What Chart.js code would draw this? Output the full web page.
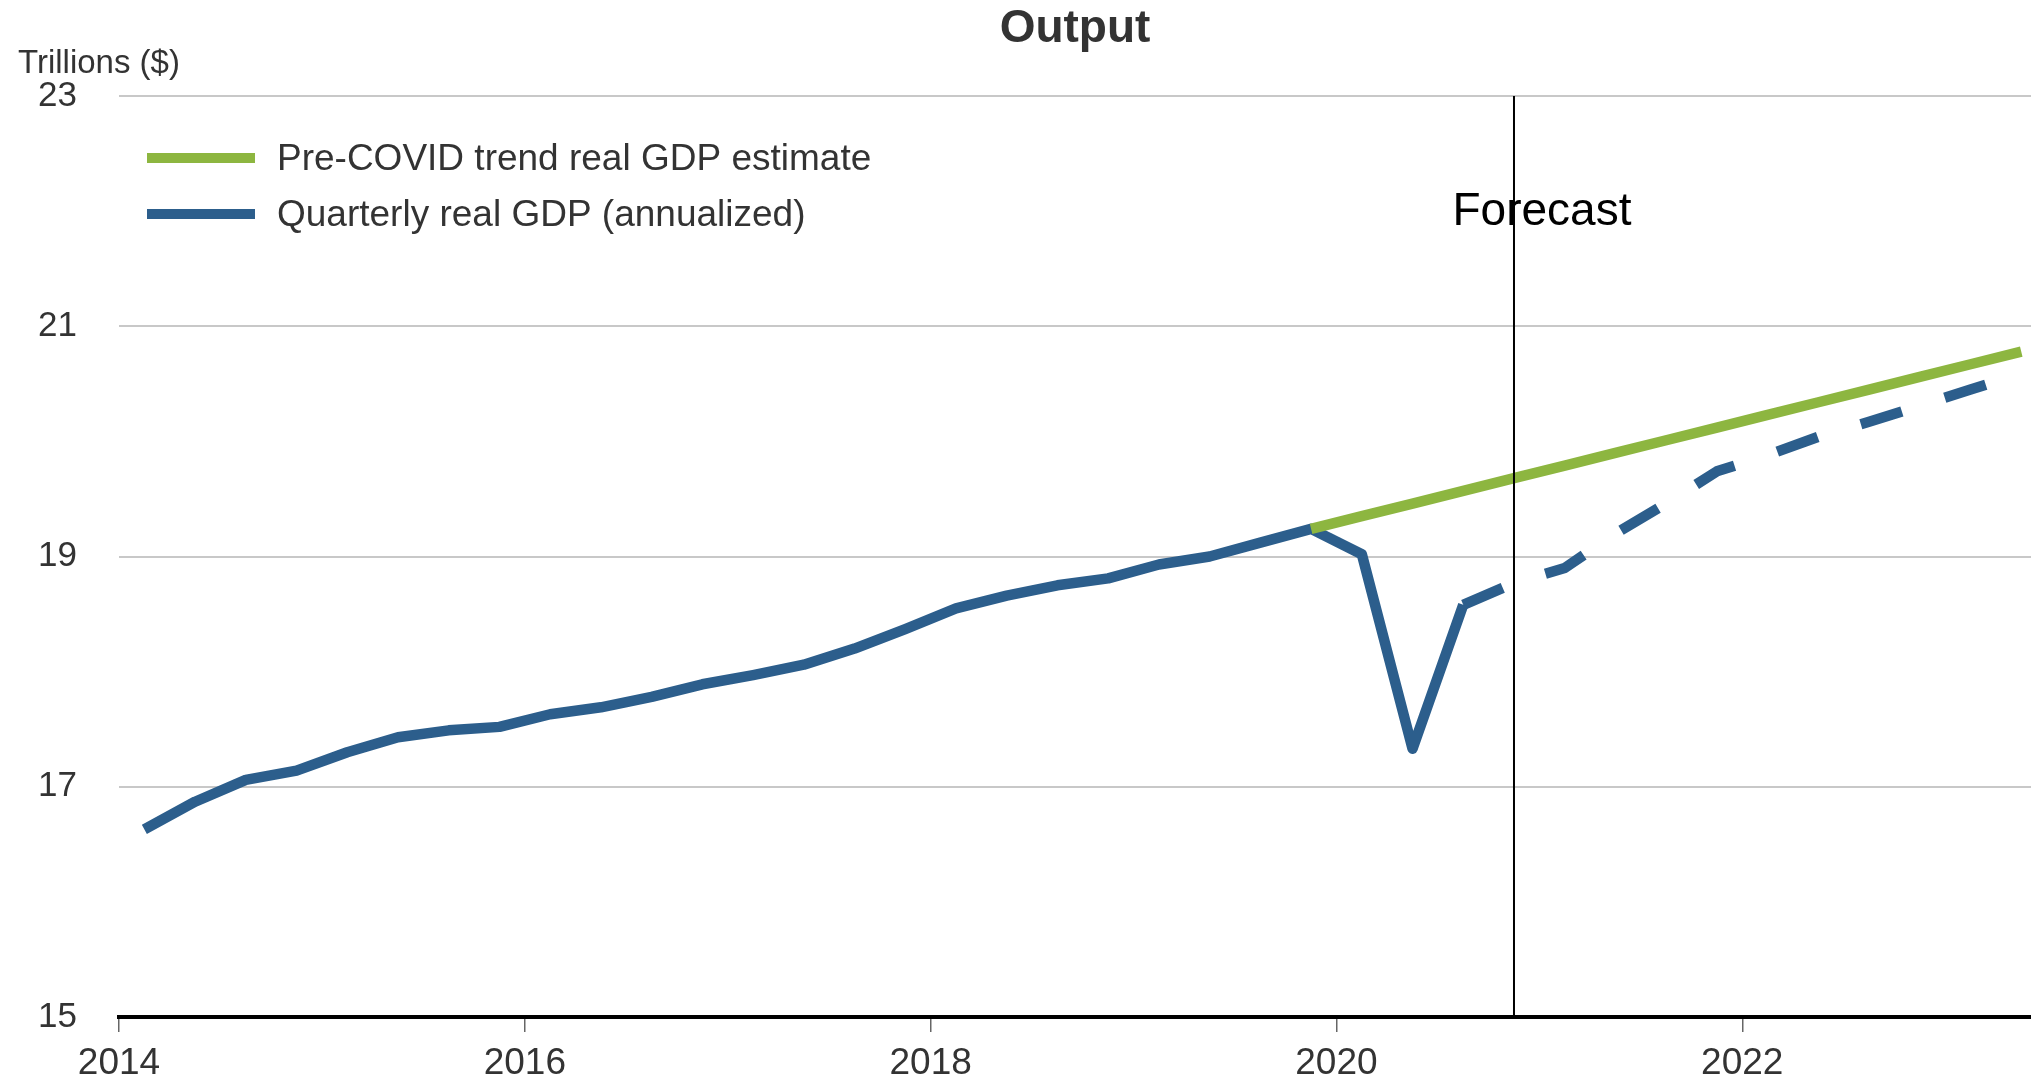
<!DOCTYPE html>
<html lang="en">
<head>
<meta charset="UTF-8">
<title>Output</title>
<style>
    body, html {
        margin: 0;
        padding: 0;
        background: #fff;
    }
    #chart {
        width: 2031px;
        height: 1081px;
        position: relative;
    }
</style>
</head>
<body>
<div id="chart"><canvas id="myChart"></canvas></div>

<script src="https://cdn.jsdelivr.net/npm/chart.js"></script>
<script>
    // quarterly periods shown on the chart
    var quarters = [
        '2014 Q1', '2014 Q2', '2014 Q3', '2014 Q4',
        '2015 Q1', '2015 Q2', '2015 Q3', '2015 Q4',
        '2016 Q1', '2016 Q2', '2016 Q3', '2016 Q4',
        '2017 Q1', '2017 Q2', '2017 Q3', '2017 Q4',
        '2018 Q1', '2018 Q2', '2018 Q3', '2018 Q4',
        '2019 Q1', '2019 Q2', '2019 Q3', '2019 Q4',
        '2020 Q1', '2020 Q2', '2020 Q3', '2020 Q4',
        '2021 Q1', '2021 Q2', '2021 Q3', '2021 Q4',
        '2022 Q1', '2022 Q2', '2022 Q3', '2022 Q4',
        '2023 Q1', '2023 Q2'
    ];

    // real GDP, trillions of dollars (annualized), 2014 Q1 - 2020 Q3
    var actualGdp = [
        16.63, 16.87, 17.06, 17.14,
        17.30, 17.43, 17.49, 17.52,
        17.63, 17.69, 17.78, 17.89,
        17.97, 18.06, 18.20, 18.37,
        18.55, 18.66, 18.75, 18.81,
        18.93, 19.00, 19.12, 19.24,
        19.02, 17.33, 18.58
    ];
    var actualStart = '2014 Q1';

    // forecast, 2020 Q3 - 2023 Q2
    var forecastGdp = [
        18.58, 18.77, 18.90, 19.20, 19.46, 19.74,
        19.88, 20.04, 20.17, 20.31, 20.45, 20.59
    ];
    var forecastFrom = '2020 Q3';

    // pre-COVID trend, 2019 Q4 - 2023 Q2
    var trendGdp = [
        19.24, 19.35, 19.46, 19.57, 19.68, 19.79, 19.90, 20.01,
        20.12, 20.23, 20.34, 20.45, 20.56, 20.67, 20.78
    ];
    var trendStart = '2019 Q4';

    var forecastLineAt = '2020 Q4';
    var xTickYears = [2014, 2016, 2018, 2020, 2022];
    var seriesNames = ['Pre-COVID trend real GDP estimate', 'Quarterly real GDP (annualized)'];

    var FONT = '"Liberation Sans", Arial, sans-serif';
    var GREEN = '#8db640';
    var BLUE = '#2c5e8c';

    // mid-quarter position on the time axis
    function quarterToX(label) {
        var p = label.split(' Q');
        return +p[0] + (+p[1] - 0.5) / 4;
    }

    function toPoints(values, first) {
        var start = quarters.indexOf(first);
        return values.map(function(v, i) {
            return {x: quarterToX(quarters[start + i]), y: v};
        });
    }

    function noPadding(scale) {
        scale.paddingLeft = 0;
        scale.paddingRight = 0;
        scale.paddingTop = 0;
        scale.paddingBottom = 0;
    }

    // title, unit label, legend, forecast marker
    var overlay = {
        id: 'overlay',
        afterDatasetsDraw: function(chart) {
            var ctx = chart.ctx, area = chart.chartArea;
            var fx = chart.scales.x.getPixelForValue(quarterToX(forecastLineAt));
            ctx.save();
            ctx.font = '46px ' + FONT;
            ctx.fillStyle = '#000';
            ctx.textAlign = 'center';
            ctx.textBaseline = 'middle';
            ctx.fillText('Forecast', fx + 28, 212);

            ctx.strokeStyle = '#000';
            ctx.lineWidth = 2;
            ctx.beginPath();
            ctx.moveTo(fx, area.top);
            ctx.lineTo(fx, area.bottom);
            ctx.stroke();

            // title over the plot area
            ctx.font = 'bold 46px ' + FONT;
            ctx.fillStyle = '#333';
            ctx.fillText('Output', (area.left + area.right) / 2, 29);

            ctx.font = '33px ' + FONT;
            ctx.textAlign = 'left';
            ctx.fillText('Trillions ($)', 18, 64);

            // legend
            var colors = [GREEN, BLUE];
            var rows = [158, 214];
            ctx.font = '37px ' + FONT;
            ctx.lineWidth = 10;
            ctx.lineCap = 'butt';
            for (var i = 0; i < seriesNames.length; i++) {
                ctx.strokeStyle = colors[i];
                ctx.beginPath();
                ctx.moveTo(147, rows[i]);
                ctx.lineTo(255, rows[i]);
                ctx.stroke();
                ctx.fillStyle = '#333';
                ctx.fillText(seriesNames[i], 277, rows[i] + 2);
            }
            ctx.restore();
        }
    };

    var ctx = document.getElementById('myChart').getContext('2d');
    window.myChart = new Chart(ctx, {
        type: 'line',
        data: {
            datasets: [
                {
                    label: seriesNames[0],
                    data: toPoints(trendGdp, trendStart),
                    borderColor: GREEN,
                    borderWidth: 10.5,
                    pointRadius: 0,
                    fill: false
                },
                {
                    label: seriesNames[1],
                    data: toPoints(actualGdp, actualStart),
                    borderColor: BLUE,
                    borderWidth: 10.5,
                    borderJoinStyle: 'round',
                    pointRadius: 0,
                    fill: false
                },
                {
                    label: 'Forecast',
                    data: toPoints(forecastGdp, forecastFrom),
                    borderColor: BLUE,
                    borderWidth: 10.5,
                    borderDash: [43, 45],
                    borderCapStyle: 'butt',
                    borderJoinStyle: 'round',
                    pointRadius: 0,
                    fill: false
                }
            ]
        },
        options: {
            responsive: true,
            maintainAspectRatio: false,
            animation: false,
            layout: {padding: {top: 96, left: 0, right: 0, bottom: 0}},
            plugins: {
                legend: {display: false},
                title: {display: false},
                tooltip: {enabled: false}
            },
            scales: {
                x: {
                    type: 'linear',
                    min: 2014,
                    max: 2023.423,
                    afterBuildTicks: function(scale) {
                        scale.ticks = xTickYears.map(function(v) { return {value: v}; });
                    },
                    afterFit: function(scale) {
                        scale.height = 64;
                        noPadding(scale);
                    },
                    ticks: {
                        color: '#333',
                        font: {family: FONT, size: 37},
                        padding: 10,
                        maxRotation: 0,
                        callback: function(v) { return String(v); }
                    },
                    grid: {
                        drawOnChartArea: false,
                        drawTicks: true,
                        tickLength: 15,
                        color: '#666',
                        lineWidth: 1.5
                    },
                    border: {display: true, color: '#000', width: 4}
                },
                y: {
                    min: 15,
                    max: 23,
                    afterFit: function(scale) {
                        scale.width = 119;
                        noPadding(scale);
                    },
                    ticks: {
                        stepSize: 2,
                        color: '#333',
                        font: {family: FONT, size: 35},
                        padding: 42
                    },
                    grid: {
                        color: '#c8c8c8',
                        lineWidth: 2,
                        drawTicks: false
                    },
                    border: {display: false}
                }
            }
        },
        plugins: [overlay]
    });
</script>
</body>
</html>
